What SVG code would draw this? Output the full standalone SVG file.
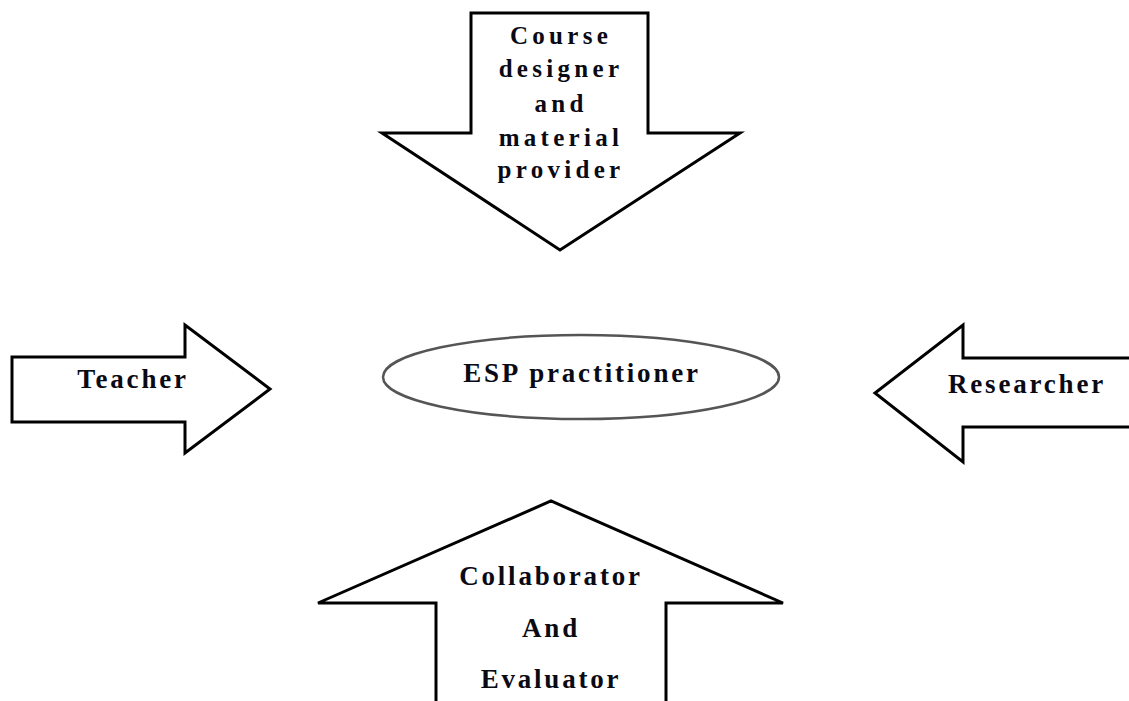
<svg xmlns="http://www.w3.org/2000/svg" width="1129" height="701" viewBox="0 0 1129 701">
  <style>
    .arrow { fill: #ffffff; stroke: #000000; stroke-width: 3; stroke-linejoin: miter; }
    .hub { fill: #ffffff; stroke: #555555; stroke-width: 2.5; }
    .label { font-family: "Liberation Serif", "Times New Roman", serif; font-weight: bold; font-size: 27px; letter-spacing: 2.8px; fill: #0a0a14; text-anchor: middle; }
    .label-top { font-size: 25px; letter-spacing: 4.3px; }
  </style>
  <rect width="1129" height="701" fill="#ffffff"/>

  <!-- central role -->
  <g id="esp-practitioner">
    <ellipse class="hub" cx="581" cy="377" rx="198" ry="42"/>
    <text class="label" x="582" y="382">ESP practitioner</text>
  </g>

  <!-- roles pointing at the centre -->
  <g id="connectors">
    <g id="course-designer">
      <polygon class="arrow" points="471,13 648,13 648,133 740,133 560,250 382,133 471,133"/>
      <text class="label label-top" x="561" y="44">Course</text>
      <text class="label label-top" x="561" y="77">designer</text>
      <text class="label label-top" x="561" y="112">and</text>
      <text class="label label-top" x="561" y="146">material</text>
      <text class="label label-top" x="561" y="178">provider</text>
    </g>

    <g id="teacher">
      <polygon class="arrow" points="12,357 185,357 185,325 270,389 185,453 185,422 12,422"/>
      <text class="label" x="133" y="388">Teacher</text>
    </g>

    <g id="researcher">
      <polygon class="arrow" points="1135,358 963,358 963,325 875,393 963,462 963,427 1135,427"/>
      <text class="label" x="1027" y="393">Researcher</text>
    </g>

    <g id="collaborator">
      <polygon class="arrow" points="436,710 436,603 318,603 551,501 783,603 666,603 666,710"/>
      <text class="label" x="551" y="585">Collaborator</text>
      <text class="label" x="551" y="637">And</text>
      <text class="label" x="551" y="688">Evaluator</text>
    </g>
  </g>
</svg>
